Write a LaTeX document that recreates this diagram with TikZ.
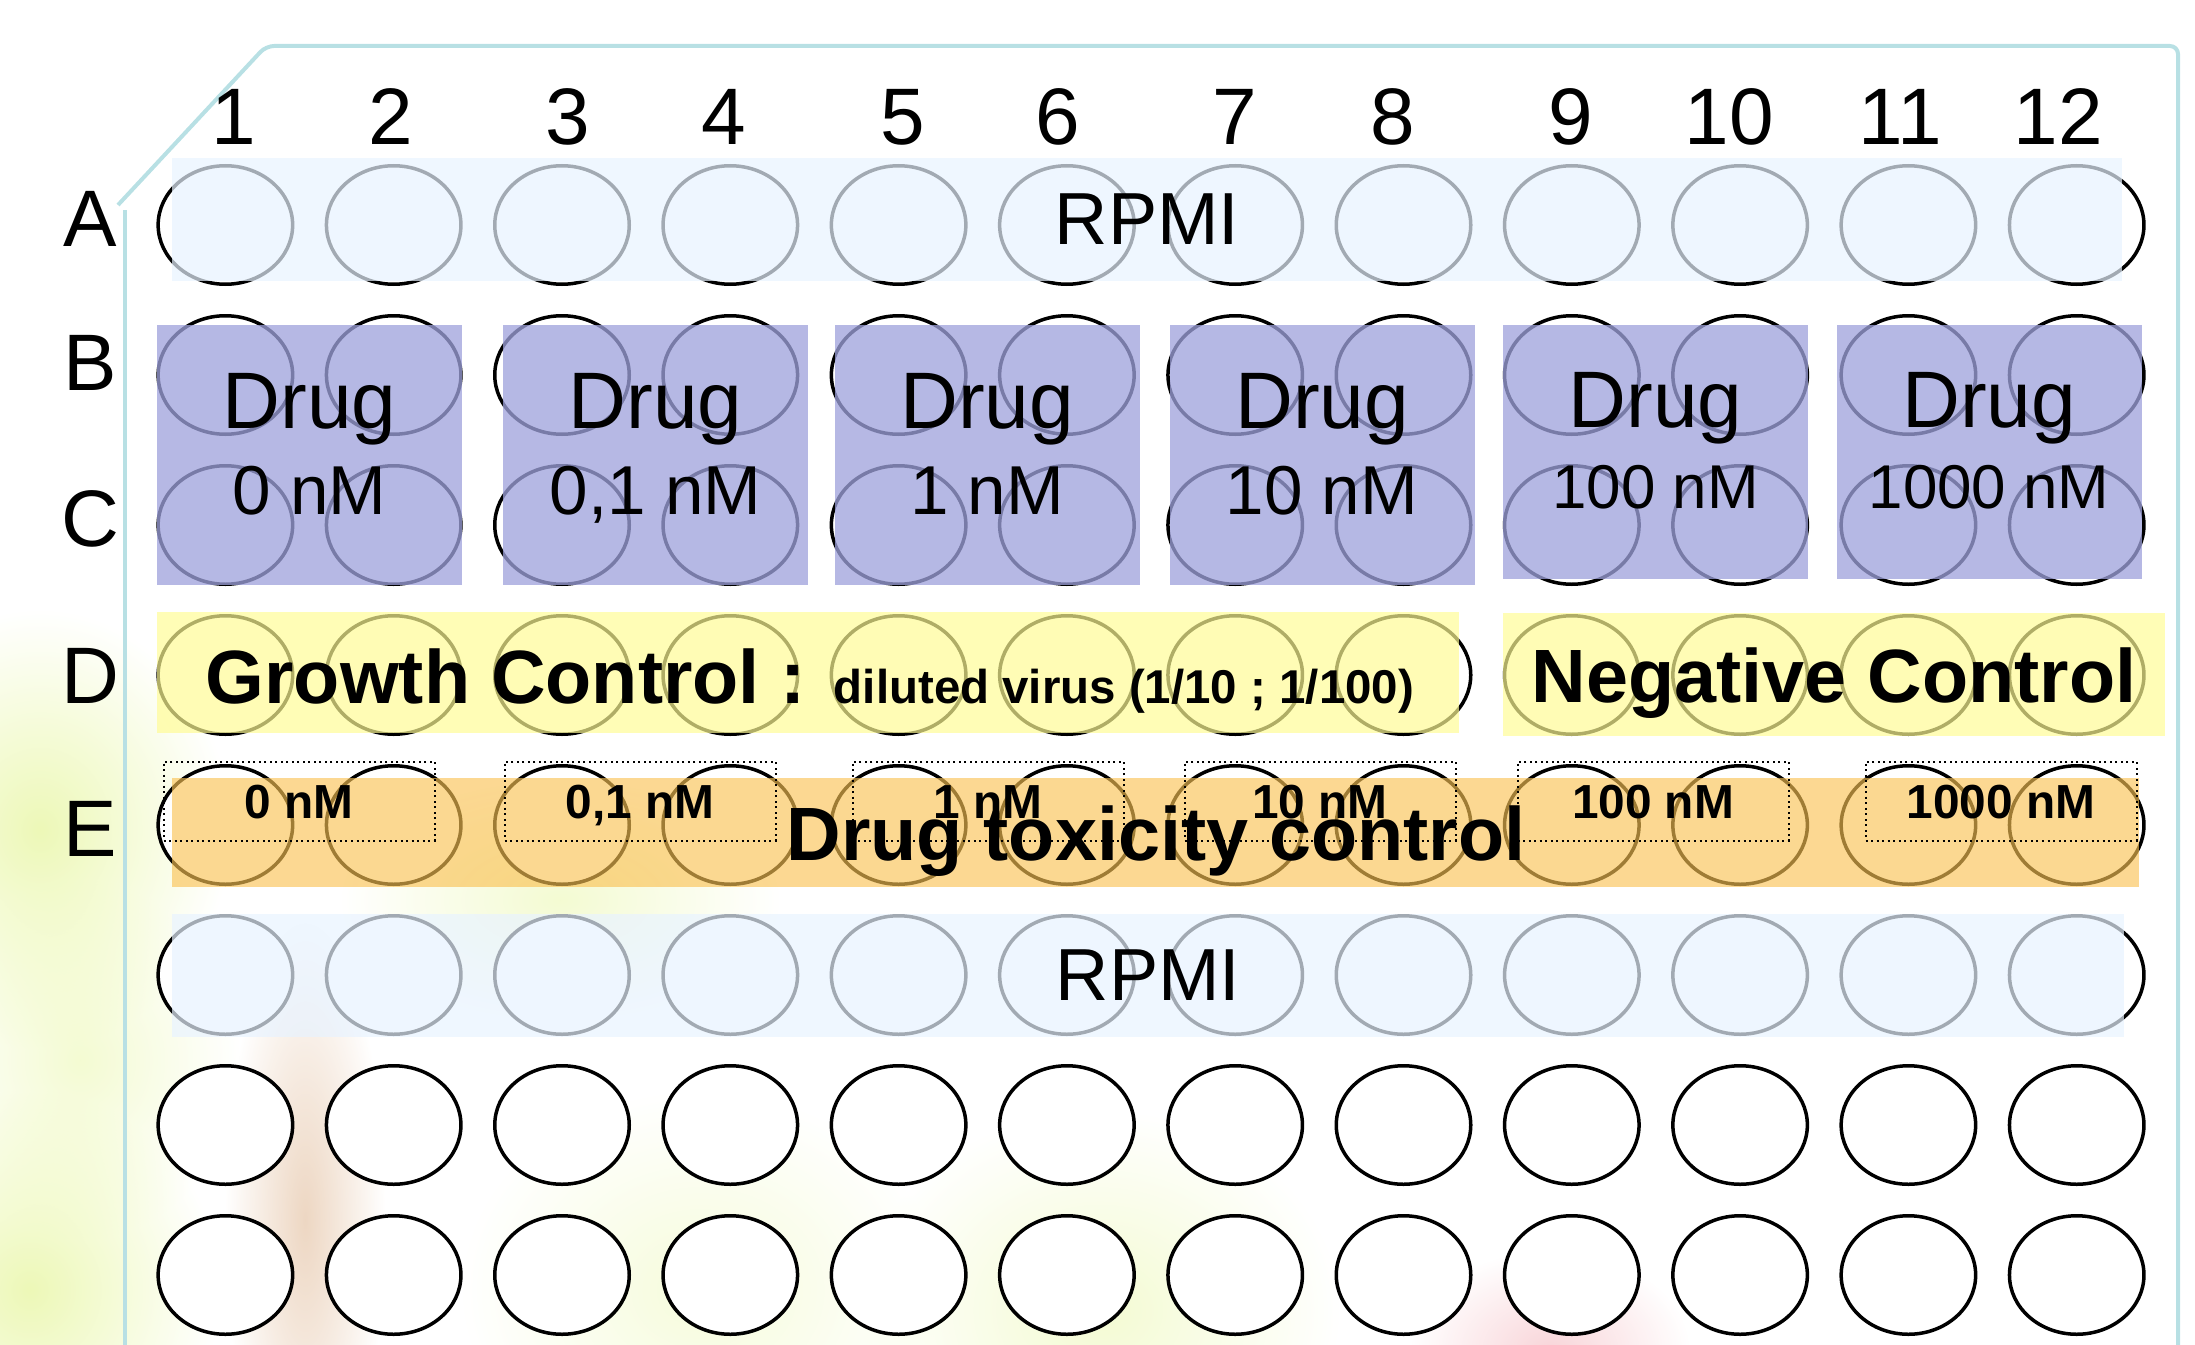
\documentclass[tikz,border=0pt]{standalone}
\usepackage{fontspec}
\setmainfont{Liberation Sans}
\usetikzlibrary{positioning,shapes.geometric,fadings}

\definecolor{platerim}{RGB}{184,224,228}
\definecolor{rpmiblue}{RGB}{232,243,255}
\definecolor{drugblue}{RGB}{159,162,220}
\definecolor{ctrlyellow}{RGB}{255,252,149}
\definecolor{toxorange}{RGB}{250,194,84}
\definecolor{hazegreen}{RGB}{232,246,165}
\definecolor{hazebrown}{RGB}{215,165,120}
\definecolor{hazepink}{RGB}{238,150,160}
\tikzfading[name=hazefade, inner color=transparent!0, outer color=transparent!100]

\begin{document}
\begin{tikzpicture}[x=0.1mm, y=0.1mm,
    rim/.style={draw=platerim, line width=0.4mm, rounded corners=0.8mm},
    haze/.style={path fading=hazefade},
    well/.style={ellipse, draw=black, fill=white, line width=0.35mm,
      minimum width=13.45mm, minimum height=11.85mm, inner sep=0pt},
    plabel/.style={font=\fontsize{22.8}{27}\selectfont, inner sep=0pt},
    rpmiband/.style={fill=rpmiblue, fill opacity=0.7, text opacity=1,
      minimum height=12.3mm, inner sep=0pt, font=\fontsize{21}{25}\selectfont},
    drugblock/.style={fill=drugblue, fill opacity=0.76, minimum width=30.5mm, inner sep=0pt},
    druglabel/.style={font=\fontsize{22.8}{27}\selectfont, inner sep=0pt},
    conclabel/.style={font=\fontsize{19.7}{24}\selectfont, inner sep=0pt},
    ctrlband/.style={fill=ctrlyellow, fill opacity=0.69, inner sep=0pt},
    toxband/.style={fill=toxorange, fill opacity=0.64, inner sep=0pt},
    bigbold/.style={font=\bfseries\fontsize{21.5}{26}\selectfont, inner sep=0pt},
    doseframe/.style={draw, densely dotted, line width=0.2mm, minimum width=27.1mm,
      minimum height=7.9mm, inner sep=0pt, text height=3.4mm, text depth=0pt,
      font=\bfseries\fontsize{13.6}{16}\selectfont}]
  \useasboundingbox (0,0) rectangle (2195,-1344);
  % Faded photo behind the plate
  \fill[hazegreen, haze, fill opacity=0.8] (40,-830) ellipse (190 and 220);
  \fill[hazegreen, haze, fill opacity=0.8] (30,-1290) ellipse (190 and 200);
  \fill[hazegreen, haze, fill opacity=0.5] (80,-1060) ellipse (160 and 180);
  \fill[hazegreen, haze, fill opacity=0.5] (560,-900) ellipse (220 and 120);
  \fill[hazegreen, haze, fill opacity=0.5] (1100,-1310) ellipse (240 and 200);
  \fill[hazegreen, haze, fill opacity=0.4] (700,-1290) ellipse (240 and 200);
  \fill[hazebrown, haze, fill opacity=0.45] (305,-1220) ellipse (80 and 300);
  \fill[hazepink, haze, fill opacity=0.4] (1550,-1350) ellipse (140 and 100);
  % Plate rim
  \draw[rim] (118,-205) -- (266,-46) -- (2178,-46) -- (2178,-1400);
  \draw[rim] (125,-210) -- (125,-1400);
  % Wells
  \foreach \r [count=\i] in {A,B,C,D,E,F,G,H}
    \foreach \c in {1,...,12}
      \node[well] (\r\c) at ({225.4+168.3*(\c-1)},{-225-150*(\i-1)}) {};
  % Column and row labels
  \foreach \c/\x in {1/234, 2/391, 3/568, 4/724, 5/903, 6/1058, 7/1235, 8/1393,
      9/1571, 10/1729, 11/1900, 12/2058}
    \node[plabel, anchor=base] (col\c) at (\x,-145) {\c};
  \foreach \r/\y in {A/246, B/390, C/546, D/703, E/856}
    \node[plabel, anchor=base] (row\r) at (90,-\y) {\r};
  % Medium only (rows A and F)
  \node[rpmiband, minimum width=195mm] (rpmiA) at (1147,-219.5) {RPMI};
  \node[rpmiband, minimum width=195.2mm] (rpmiF) at (1148,-975.5) {RPMI};
  % Drug dilutions (rows B and C)
  \foreach \x/\conc [count=\k] in {309.5/0 nM, 655.5/{0,1 nM}, 987/1 nM, 1322/10 nM} {
    \node[drugblock, minimum height=26mm] (block\k) at (\x,-455) {};
    \node[druglabel, anchor=base] (drug\k) at (\x,-428) {Drug};
    \node[conclabel, anchor=base] (conc\k) at (\x,-514) {\conc};
  }
  \foreach \x/\conc [count=\k from 5] in {1655.5/100 nM, 1989/1000 nM} {
    \node[drugblock, minimum height=25.4mm] (block\k) at (\x,-452) {};
    \node[druglabel, anchor=base] (drug\k) at (\x,-427) {Drug};
    \node[conclabel, anchor=base, font=\fontsize{17.6}{21}\selectfont] (conc\k) at (\x,-508) {\conc};
  }
  % Controls (row D)
  \node[ctrlband, minimum width=130.2mm, minimum height=12.1mm] (growth) at (808,-672.5) {};
  \node[ctrlband, minimum width=66.2mm, minimum height=12.3mm] (negative) at (1834,-674.5) {};
  \node[bigbold, anchor=base west] (growthtxt) at (205,-703)
    {Growth Control : {\fontsize{13.5}{16}\selectfont diluted virus (1/10 ; 1/100)}};
  \node[bigbold, anchor=base] (negtxt) at (1834,-702) {Negative Control};
  % Drug toxicity (row E)
  \node[toxband, minimum width=196.7mm, minimum height=10.9mm] (toxicity) at (1155.5,-832.5) {};
  \foreach \x/\conc [count=\k] in {299/0 nM, 640/{0,1 nM}, 988/1 nM, 1320/10 nM,
      1653/100 nM, 2001/1000 nM}
    \node[doseframe] (dose\k) at (\x,-801) {\conc};
  \node[bigbold, anchor=base] (toxtxt) at (1156,-860) {Drug toxicity control};
\end{tikzpicture}
\end{document}
